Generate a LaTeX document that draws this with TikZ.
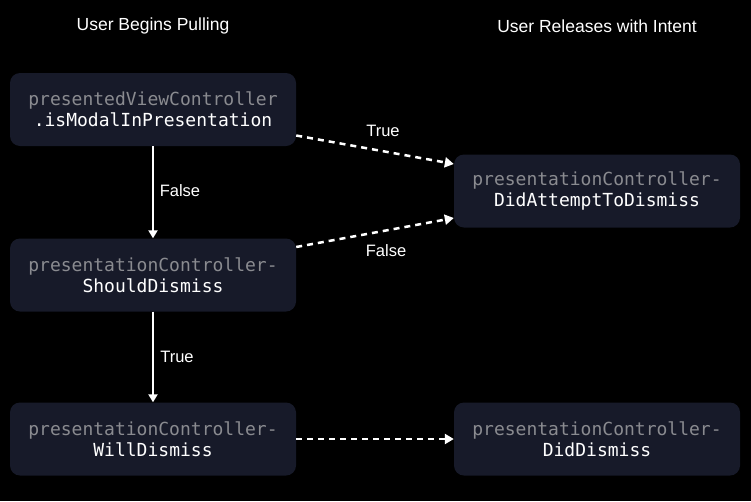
\documentclass[tikz,border=0pt]{standalone}
\usepackage{fontspec}
\setmainfont{Liberation Sans}
\newfontfamily\codefont{DejaVu Sans Mono}
\usetikzlibrary{arrows.meta,calc}
\definecolor{boxfill}{HTML}{171A29}
\definecolor{graytext}{HTML}{8A8B90}
\tikzset{
  x=1pt,y=-1pt,
  codebox/.style={fill=boxfill,rounded corners=10pt,minimum width=286pt,minimum height=73pt,
    inner sep=0pt,align=center,font=\codefont\fontsize{18}{21}\selectfont,text=white},
  title/.style={text=white,font=\fontsize{17.5}{20}\selectfont},
  lbl/.style={text=white,font=\fontsize{16.5}{19}\selectfont},
  solidarrow/.style={draw=white,line width=2pt,-{Triangle[length=8pt,width=9pt]}},
  dasharrow/.style={draw=white,line width=2.5pt,dash pattern=on 6pt off 5pt,-{Triangle[length=9pt,width=10pt]}},
}
\newcommand{\gl}[1]{\textcolor{graytext}{#1}}
\begin{document}
\begin{tikzpicture}
\fill[black] (0,0) rectangle (751,501);
\useasboundingbox (0,0) rectangle (751,501);

\node[title] (t1) at (153,26) {User Begins Pulling};
\node[title] (t2) at (597,26) {User Releases with Intent};

\node[codebox] (b1) at (153,109.5) {\gl{presentedViewController}\\.isModalInPresentation};
\node[codebox] (b2) at (153,275) {\gl{presentationController-}\\ShouldDismiss};
\node[codebox] (b3) at (153,439) {\gl{presentationController-}\\WillDismiss};
\node[codebox] (a1) at (597,191) {\gl{presentationController-}\\DidAttemptToDismiss};
\node[codebox] (a2) at (597,439) {\gl{presentationController-}\\DidDismiss};

\draw[solidarrow] (b1.south) -- (b2.north);
\draw[solidarrow] (b2.south) -- (b3.north);
\draw[dasharrow] ([yshift=-26pt]b1.east) -- ([yshift=27pt]a1.west);
\draw[dasharrow] ([yshift=28pt]b2.east) -- ([yshift=-27pt]a1.west);
\draw[dasharrow] (b3.east) -- (a2.west);

\node[lbl] (l1) at (383,131) {True};
\node[lbl] (l2) at (180,191) {False};
\node[lbl] (l3) at (386,251) {False};
\node[lbl] (l4) at (177,357) {True};
\end{tikzpicture}
\end{document}
